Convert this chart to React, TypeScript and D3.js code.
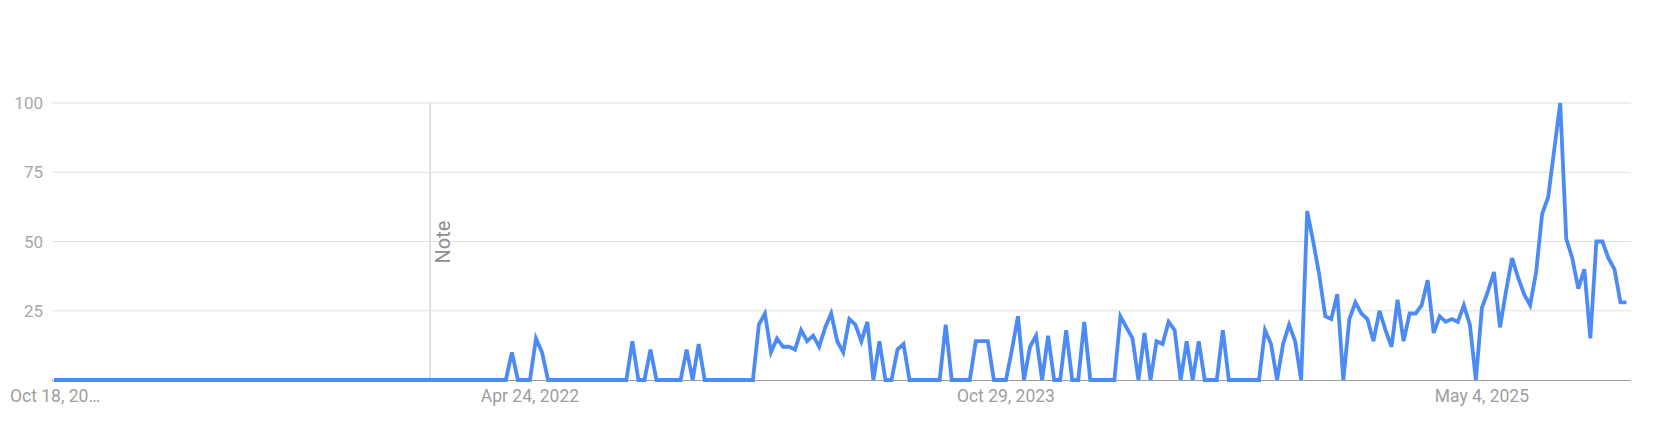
import React, { useEffect, useRef } from 'react';
import * as d3 from 'd3';

// weekly interest, Oct 18 2020 .. Oct 12 2025 (one value per week)
const values: number[] = [
  0, 0, 0, 0, 0, 0, 0, 0, 0, 0, 0, 0, 0, 0, 0, 0, 0, 0, 0, 0,
  0, 0, 0, 0, 0, 0, 0, 0, 0, 0, 0, 0, 0, 0, 0, 0, 0, 0, 0, 0,
  0, 0, 0, 0, 0, 0, 0, 0, 0, 0, 0, 0, 0, 0, 0, 0, 0, 0, 0, 0,
  0, 0, 0, 0, 0, 0, 0, 0, 0, 0, 0, 0, 0, 0, 0, 0, 10, 0, 0, 0,
  15, 10, 0, 0, 0, 0, 0, 0, 0, 0, 0, 0, 0, 0, 0, 0, 14, 0, 0, 11,
  0, 0, 0, 0, 0, 11, 0, 13, 0, 0, 0, 0, 0, 0, 0, 0, 0, 20, 24, 10,
  15, 12, 12, 11, 18, 14, 16, 12, 19, 24, 14, 10, 22, 20, 14, 21, 0, 14, 0, 0,
  11, 13, 0, 0, 0, 0, 0, 0, 20, 0, 0, 0, 0, 14, 14, 14, 0, 0, 0, 11,
  23, 0, 12, 16, 0, 16, 0, 0, 18, 0, 0, 21, 0, 0, 0, 0, 0, 23, 19, 15,
  0, 17, 0, 14, 13, 21, 18, 0, 14, 0, 14, 0, 0, 0, 18, 0, 0, 0, 0, 0,
  0, 18, 13, 0, 13, 20, 14, 0, 61, 50, 38, 23, 22, 31, 0, 22, 28, 24, 22, 14,
  25, 18, 12, 29, 14, 24, 24, 27, 36, 17, 23, 21, 22, 21, 27, 20, 0, 26, 32, 39,
  19, 32, 44, 37, 31, 27, 39, 60, 66, 83, 100, 51, 44, 33, 40, 15, 50, 50, 44, 40,
  28, 28,
];

const startDate = new Date(2020, 9, 18);
const yTicks = [25, 50, 75, 100];
const xTickDates = [new Date(2022, 3, 24), new Date(2023, 9, 29), new Date(2025, 4, 4)];
const xTickLabels = ['Apr 24, 2022', 'Oct 29, 2023', 'May 4, 2025'];
const firstLabel = 'Oct 18, 20…';
const noteDate = new Date(2021, 11, 29);
const noteLabel = 'Note';

const W = 1660;
const H = 443;

export default function App() {
  const svgRef = useRef<SVGSVGElement>(null);

  useEffect(() => {
    document.body.style.margin = '0';
    if (!svgRef.current) return;

    const svg = d3.select(svgRef.current);
    svg.selectAll('*').remove();

    const dates = values.map((_, i) => d3.timeDay.offset(startDate, i * 7));

    const x = d3.scaleTime()
      .domain([dates[0], dates[dates.length - 1]])
      .range([54, 1626.5]);
    const y = d3.scaleLinear().domain([0, 100]).range([380, 103]);

    const font = 'Roboto, Arial, sans-serif';

    // gridlines
    svg.append('g')
      .selectAll('line')
      .data(yTicks)
      .enter().append('line')
      .attr('x1', 52).attr('x2', 1631)
      .attr('y1', d => y(d)).attr('y2', d => y(d))
      .attr('stroke', '#e0e0e0')
      .attr('stroke-width', 1.2);

    // y labels
    svg.append('g')
      .selectAll('text')
      .data(yTicks)
      .enter().append('text')
      .attr('x', 43)
      .attr('y', d => y(d))
      .attr('dy', '0.36em')
      .attr('text-anchor', 'end')
      .attr('font-family', font)
      .attr('font-size', 17)
      .attr('fill', '#a8a8a8')
      .text(d => d);

    // annotation line
    const nx = x(noteDate);
    svg.append('line')
      .attr('x1', nx).attr('x2', nx)
      .attr('y1', y(100)).attr('y2', y(0))
      .attr('stroke', '#d6d6d6')
      .attr('stroke-width', 1.5);
    svg.append('text')
      .attr('transform', `translate(${nx + 20},242) rotate(-90)`)
      .attr('text-anchor', 'middle')
      .attr('font-family', font)
      .attr('font-size', 20)
      .attr('fill', '#8e8e8e')
      .text(noteLabel);

    // baseline
    svg.append('line')
      .attr('x1', 52).attr('x2', 1631)
      .attr('y1', 380.5).attr('y2', 380.5)
      .attr('stroke', '#9e9e9e')
      .attr('stroke-width', 1);

    // x labels
    svg.append('text')
      .attr('x', 10).attr('y', 402)
      .attr('font-family', font)
      .attr('font-size', 17.5)
      .attr('fill', '#9e9e9e')
      .text(firstLabel);

    svg.append('g')
      .selectAll('text')
      .data(xTickDates)
      .enter().append('text')
      .attr('x', d => x(d))
      .attr('y', 402)
      .attr('text-anchor', 'middle')
      .attr('font-family', font)
      .attr('font-size', 17.5)
      .attr('fill', '#9e9e9e')
      .text((_, i) => xTickLabels[i]);

    // series
    const line = d3.line<number>()
      .x((_, i) => x(dates[i]))
      .y(d => y(d));

    svg.append('path')
      .datum(values)
      .attr('fill', 'none')
      .attr('stroke', '#4c8bf5')
      .attr('stroke-width', 3.8)
      .attr('stroke-linejoin', 'miter')
      .attr('d', line);
  }, []);

  return <svg ref={svgRef} width={W} height={H} viewBox={`0 0 ${W} ${H}`} style={{ display: 'block', background: '#fff' }} />;
}
